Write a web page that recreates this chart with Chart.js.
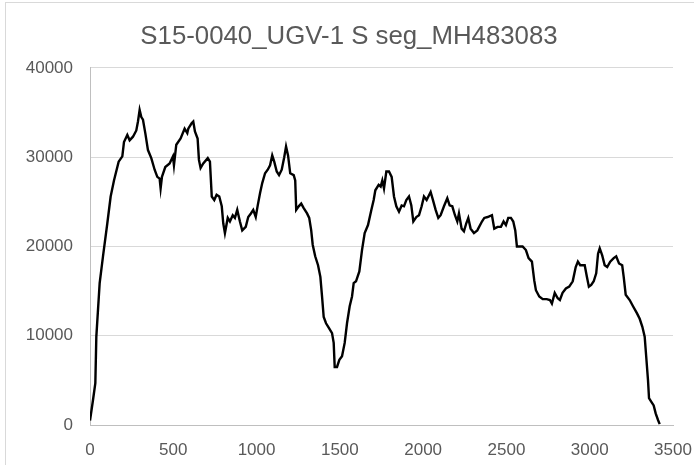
<!DOCTYPE html>
<html>
<head>
<meta charset="utf-8">
<script src="https://cdn.jsdelivr.net/npm/chart.js@4/dist/chart.umd.min.js"></script>
<style>
  html, body { margin: 0; padding: 0; background: #ffffff; }
  #wrap { width: 694px; height: 465px; position: relative; }
</style>
</head>
<body>
<div id="wrap"><canvas id="c" width="694" height="465"></canvas></div>
<script>
const chartTitle = "S15-0040_UGV-1 S seg_MH483083";
const xTicks = [0, 500, 1000, 1500, 2000, 2500, 3000, 3500];
const yTicks = [0, 10000, 20000, 30000, 40000];

const positions = [
  0, 18, 32, 38, 58, 78, 104, 124, 144, 172, 194, 204, 224, 238, 258, 278, 288, 298, 308, 318,
  332, 348, 368, 388, 404, 418, 424, 432, 452, 478, 498, 504, 518, 544, 568, 584, 590, 610, 620, 630,
  646, 654, 664, 680, 707, 720, 731, 746, 760, 776, 791, 800, 810, 827, 840, 857, 870, 884, 900, 914,
  935, 950, 966, 980, 995, 1007, 1021, 1034, 1051, 1067, 1081, 1094, 1106, 1121, 1135, 1151, 1166, 1177, 1189, 1202,
  1223, 1232, 1238, 1253, 1268, 1283, 1303, 1316, 1328, 1337, 1352, 1369, 1383, 1393, 1403, 1417, 1433, 1453, 1463, 1469,
  1483, 1497, 1513, 1529, 1543, 1559, 1573, 1583, 1597, 1617, 1633, 1649, 1669, 1689, 1703, 1713, 1733, 1745, 1755, 1765,
  1779, 1795, 1811, 1825, 1839, 1855, 1871, 1885, 1899, 1915, 1929, 1941, 1959, 1975, 1991, 2005, 2021, 2045, 2059, 2075,
  2091, 2105, 2125, 2145, 2159, 2175, 2191, 2205, 2215, 2231, 2245, 2259, 2271, 2285, 2305, 2325, 2353, 2367, 2387, 2413,
  2427, 2447, 2467, 2483, 2497, 2511, 2527, 2541, 2553, 2563, 2577, 2597, 2617, 2633, 2653, 2667, 2677, 2697, 2718, 2742,
  2761, 2773, 2790, 2808, 2821, 2837, 2857, 2877, 2898, 2916, 2929, 2943, 2970, 2983, 2995, 3009, 3024, 3039, 3050, 3060,
  3075, 3090, 3105, 3123, 3144, 3159, 3176, 3195, 3204, 3216, 3240, 3260, 3284, 3300, 3316, 3330, 3339, 3350, 3356, 3370,
  3384, 3396, 3410, 3420
];

const coverage = [
  500, 2800, 4700, 9900, 15900, 18900, 22600, 25600, 27400, 29500, 30100, 31700, 32500, 31900, 32300, 33000, 34000, 35300, 34500, 34200,
  32700, 30800, 29900, 28600, 27800, 27600, 26500, 27800, 28900, 29300, 30100, 29100, 31400, 32100, 33200, 32700, 33200, 33800, 34000, 32900,
  32100, 29700, 28800, 29300, 29900, 29500, 25600, 25200, 25800, 25600, 24500, 22600, 21500, 23200, 22800, 23500, 23200, 24100, 22800, 21800,
  22200, 23300, 23700, 24100, 23300, 24600, 26000, 27100, 28200, 28600, 29100, 30200, 29500, 28400, 28000, 28600, 30000, 31200, 30200, 28200,
  28000, 27400, 24100, 24500, 24800, 24300, 23700, 23200, 21800, 20200, 18900, 17900, 16600, 14400, 12100, 11400, 10900, 10300, 9200, 6500,
  6500, 7300, 7700, 9200, 11400, 13300, 14400, 15900, 16100, 17200, 19600, 21500, 22400, 24100, 25200, 26300, 26900, 26700, 27400, 26500,
  28400, 28400, 27800, 25600, 24500, 23900, 24600, 24500, 25200, 25600, 24600, 22800, 23300, 23500, 24500, 25600, 25200, 26100, 25200, 24100,
  23200, 23500, 24500, 25400, 24600, 24500, 23500, 22800, 23700, 22000, 21700, 22600, 23200, 22000, 21500, 21800, 22800, 23200, 23300, 23500,
  22000, 22200, 22200, 22800, 22400, 23200, 23200, 22800, 21800, 20000, 20000, 20000, 19600, 18700, 18300, 16200, 15100, 14400, 14100, 14100,
  14000, 13600, 14800, 14200, 14000, 14800, 15300, 15500, 16100, 17700, 18300, 17900, 17900, 16600, 15500, 15700, 16100, 17000, 19200, 19800,
  19000, 17900, 17700, 18300, 18700, 18900, 18100, 17900, 16600, 14600, 14000, 13300, 12500, 11900, 11000, 9900, 7700, 5000, 3000, 2600,
  2200, 1300, 560, 100
];

const points = positions.map((p, i) => ({ x: p, y: coverage[i] }));

const frame = {
  id: 'frame',
  beforeDraw(chart) {
    const ctx = chart.ctx;
    ctx.save();
    ctx.fillStyle = '#ffffff';
    ctx.fillRect(0, 0, chart.width, chart.height);
    ctx.strokeStyle = '#d9d9d9';
    ctx.lineWidth = 1;
    ctx.strokeRect(5.5, 2.5, 800, 600);
    ctx.restore();
  }
};

const fontFamily = '"Liberation Sans", Arial, sans-serif';
const textColor = '#595959';

new Chart(document.getElementById('c'), {
  type: 'scatter',
  data: {
    datasets: [{
      data: points,
      showLine: true,
      borderColor: '#000000',
      backgroundColor: '#000000',
      borderWidth: 2.4,
      pointRadius: 0,
      pointHoverRadius: 0,
      tension: 0,
      fill: false
    }]
  },
  plugins: [frame],
  options: {
    responsive: false,
    animation: false,
    events: [],
    layout: { padding: { top: 2, right: 0, left: 4, bottom: 0 } },
    plugins: {
      legend: { display: false },
      tooltip: { enabled: false },
      title: {
        display: true,
        text: chartTitle,
        color: textColor,
        font: { family: fontFamily, size: 25.8, weight: 'normal' },
        padding: { top: 19, bottom: 16 }
      }
    },
    scales: {
      x: {
        type: 'linear',
        min: xTicks[0],
        max: xTicks[xTicks.length - 1],
        afterBuildTicks(scale) { scale.ticks = xTicks.map(v => ({ value: v })); },
        afterFit(scale) { scale.height = 40; scale.paddingRight = 21; scale.paddingLeft = 0; },
        grid: { display: false },
        border: { display: true, color: '#bfbfbf', width: 1 },
        ticks: {
          color: textColor,
          font: { family: fontFamily, size: 17 },
          padding: 7,
          maxRotation: 0,
          autoSkip: false,
          callback: v => String(v)
        }
      },
      y: {
        type: 'linear',
        min: yTicks[0],
        max: yTicks[yTicks.length - 1],
        afterBuildTicks(scale) { scale.ticks = yTicks.map(v => ({ value: v })); },
        afterFit(scale) { scale.width = 86; },
        grid: { display: true, color: '#d9d9d9', lineWidth: 1, drawTicks: false },
        border: { display: true, color: '#bfbfbf', width: 1 },
        ticks: {
          color: textColor,
          font: { family: fontFamily, size: 17 },
          padding: 17,
          autoSkip: false,
          callback: v => String(v)
        }
      }
    }
  }
});
</script>
</body>
</html>
